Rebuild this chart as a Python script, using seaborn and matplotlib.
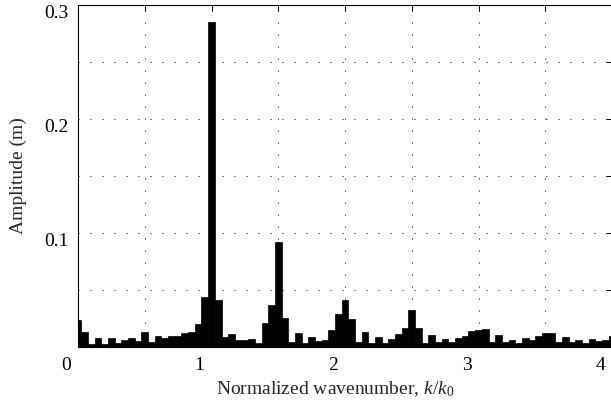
import matplotlib
matplotlib.use('Agg')
import matplotlib.pyplot as plt
import matplotlib.transforms as mtransforms
import seaborn as sns
import pandas as pd

# normalized wavenumber bins k/k0
wavenumber = [
    0.00, 0.05, 0.10, 0.15, 0.20, 0.25, 0.30, 0.35, 0.40, 0.45,
    0.50, 0.55, 0.60, 0.65, 0.70, 0.75, 0.80, 0.85, 0.90, 0.95,
    1.00, 1.05, 1.10, 1.15, 1.20, 1.25, 1.30, 1.35, 1.40, 1.45,
    1.50, 1.55, 1.60, 1.65, 1.70, 1.75, 1.80, 1.85, 1.90, 1.95,
    2.00, 2.05, 2.10, 2.15, 2.20, 2.25, 2.30, 2.35, 2.40, 2.45,
    2.50, 2.55, 2.60, 2.65, 2.70, 2.75, 2.80, 2.85, 2.90, 2.95,
    3.00, 3.05, 3.10, 3.15, 3.20, 3.25, 3.30, 3.35, 3.40, 3.45,
    3.50, 3.55, 3.60, 3.65, 3.70, 3.75, 3.80, 3.85, 3.90, 3.95,
    4.00,
]

# amplitude (m)
amplitude = [
    0.0240, 0.0130, 0.0025, 0.0080, 0.0030, 0.0080, 0.0035, 0.0065, 0.0076, 0.0053,
    0.0130, 0.0044, 0.0100, 0.0075, 0.0098, 0.0094, 0.0122, 0.0132, 0.0205, 0.0440,
    0.2850, 0.0410, 0.0090, 0.0117, 0.0065, 0.0062, 0.0073, 0.0036, 0.0210, 0.0365,
    0.0920, 0.0257, 0.0048, 0.0126, 0.0035, 0.0088, 0.0050, 0.0058, 0.0153, 0.0292,
    0.0415, 0.0249, 0.0044, 0.0134, 0.0035, 0.0092, 0.0037, 0.0073, 0.0114, 0.0168,
    0.0327, 0.0170, 0.0035, 0.0109, 0.0043, 0.0073, 0.0043, 0.0079, 0.0094, 0.0138,
    0.0146, 0.0155, 0.0044, 0.0105, 0.0047, 0.0065, 0.0035, 0.0082, 0.0065, 0.0094,
    0.0126, 0.0126, 0.0044, 0.0088, 0.0044, 0.0065, 0.0035, 0.0073, 0.0050, 0.0065,
    0.0100,
]

x_ticks = [0, 0.5, 1, 1.5, 2, 2.5, 3, 3.5, 4]
x_ticklabels = ['0', '', '1', '', '2', '', '3', '', '4']
y_ticks = [0, 0.05, 0.1, 0.15, 0.2, 0.25, 0.3]
y_ticklabels = ['', '', '0.1', '', '0.2', '', '0.3']

df = pd.DataFrame({'k': wavenumber, 'amp': amplitude})

sns.set_style('white')
plt.rcParams['font.family'] = ['Liberation Serif', 'DejaVu Serif']
plt.rcParams['mathtext.fontset'] = 'custom'
plt.rcParams['mathtext.rm'] = 'Liberation Serif'
plt.rcParams['mathtext.it'] = 'Liberation Serif:italic'

fig = plt.figure(figsize=(6.11, 4.04), dpi=100)
ax = fig.add_axes([78 / 611, 57 / 404, 534 / 611, 342 / 404])

sns.barplot(data=df, x='k', y='amp', native_scale=True, width=1.0,
            color='black', saturation=1, edgecolor='black', linewidth=0.5,
            errorbar=None, ax=ax)

ax.set_xlim(0, 4)
ax.set_ylim(0, 0.3)
ax.set_xticks(x_ticks)
ax.set_xticklabels(x_ticklabels)
ax.set_yticks(y_ticks)
ax.set_yticklabels(y_ticklabels)
ax.tick_params(direction='in', length=4, width=0.7, labelsize=14, pad=7,
               top=True, right=True, colors='black')

# labels in the original sit a little off their ticks
shift_x = mtransforms.ScaledTranslation(-12 / 100, 0, fig.dpi_scale_trans)
for lbl in ax.get_xticklabels():
    lbl.set_transform(lbl.get_transform() + shift_x)
shift_y = mtransforms.ScaledTranslation(0, -6 / 100, fig.dpi_scale_trans)
for lbl in ax.get_yticklabels():
    lbl.set_transform(lbl.get_transform() + shift_y)

ax.set_axisbelow(True)
ax.grid(True, color='black', linestyle=(0, (1, 11)), linewidth=0.72)

for side in ['left', 'bottom', 'top', 'right']:
    ax.spines[side].set_visible(True)
    ax.spines[side].set_color('black')
    ax.spines[side].set_linewidth(0.8)

ax.set_xlabel('Normalized wavenumber, $k/k_0$', fontsize=14, labelpad=4)
ax.xaxis.label.set_x(0.5 - 10 / 534)
ax.set_ylabel('Amplitude (m)', fontsize=14, labelpad=12)

fig.savefig('out.png', dpi=100)
